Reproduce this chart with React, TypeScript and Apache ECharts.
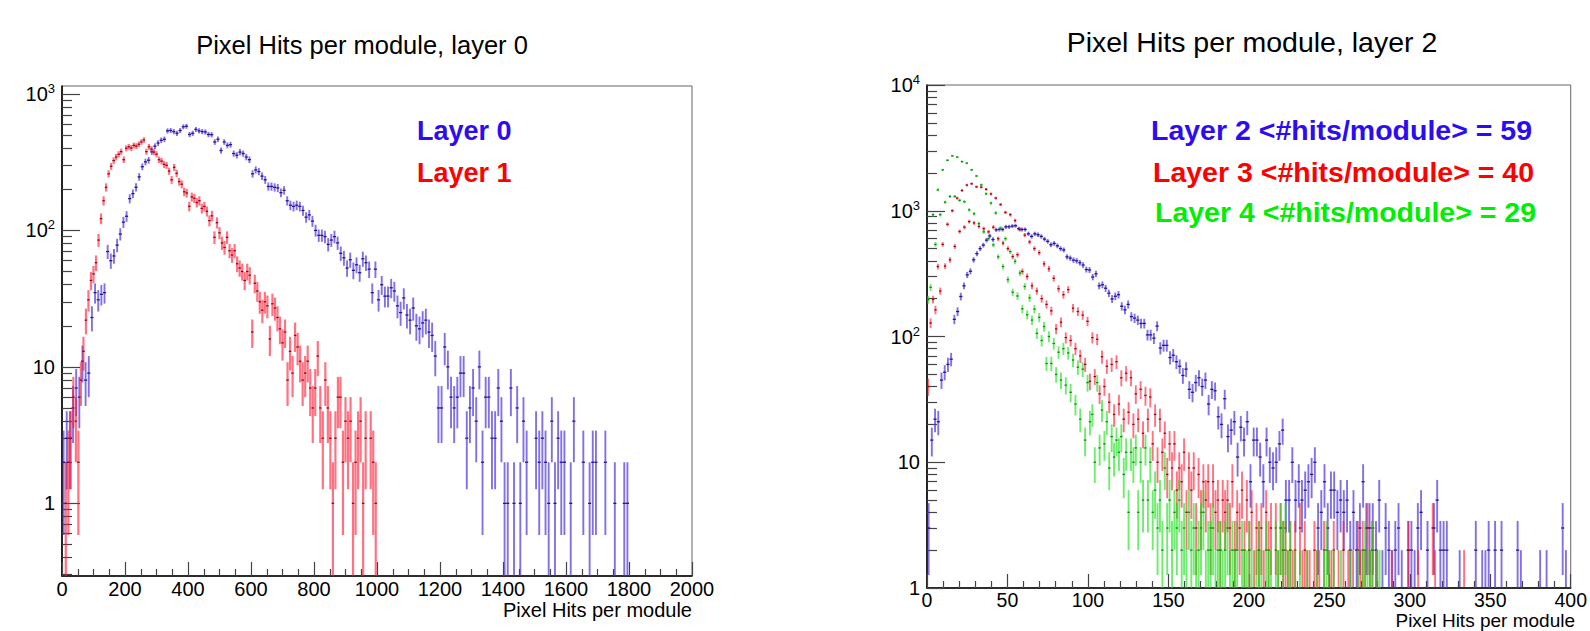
import React, { useEffect, useRef } from 'react';
import * as echarts from 'echarts';

const FONT = '"Liberation Sans", Arial, Helvetica, sans-serif';

// ---------- data: counts per bin (bin i covers [i*w, (i+1)*w)) ----------
const L0_BIN = 10;
const L0_COUNTS = [
  2, 3, 3, 5, 7, 6, 11, 8, 9, 23,
  35, 31, 34, 35, 70, 60, 65, 78, 94, 115,
  127, 171, 186, 207, 247, 293, 318, 327, 377, 414,
  437, 458, 466, 537, 540, 530, 515, 540, 575, 580,
  505, 515, 550, 537, 530, 527, 505, 503, 445, 466,
  385, 445, 420, 425, 366, 356, 375, 366, 345, 330,
  260, 278, 270, 250, 235, 210, 210, 207, 205, 189,
  197, 165, 153, 150, 153, 150, 140, 125, 130, 117,
  100, 92, 92, 90, 79, 85, 90, 81, 68, 63,
  53, 61, 51, 56, 49, 62, 58, 52, 35, 52,
  31, 40, 33, 33, 38, 36, 28, 25, 32, 24,
  22, 27, 20, 19, 21, 22, 18, 17, 12, 5,
  5, 14, 10, 6, 5, 6, 9, 9, 3, 5,
  7, 4, 10, 2, 6, 6, 3, 3, 7, 4,
  1, 1, 7, 1, 5, 1, 4, 2, 0, 0,
  3, 2, 3, 2, 1, 4, 1, 3, 2, 2,
  0, 1, 4, 0, 0, 2, 0, 1, 2, 2,
  0, 0, 2, 0, 0, 1, 0, 0, 1, 1,
];

const L1_BIN = 8;
const L1_COUNTS = [
  0, 1, 2, 3, 6, 4, 2, 8, 13, 22,
  31, 43, 48, 58, 85, 122, 165, 207, 260, 295,
  325, 345, 362, 378, 330, 400, 410, 402, 420, 415,
  428, 445, 460, 378, 410, 395, 375, 362, 330, 322,
  305, 300, 272, 235, 290, 262, 228, 218, 192, 188,
  150, 176, 172, 160, 165, 145, 150, 138, 118, 128,
  89, 114, 96, 81, 75, 89, 71, 66, 71, 57,
  53, 50, 43, 50, 47, 18, 41, 36, 30, 26,
  30, 28, 16, 29, 27, 23, 19, 15, 18, 8,
  13, 9, 17, 14, 11, 8, 9, 11, 7, 5,
  7, 12, 5, 3, 8, 5, 3, 1, 3, 6,
  6, 2, 4, 3, 4, 1, 2, 3, 4, 1,
  3, 0, 3, 2, 1,
];

const L2_BIN = 2;
const L2_COUNTS = [
  3, 15, 22, 21, 45, 52, 60, 66, 137, 158,
  208, 253, 309, 330, 407, 456, 500, 533, 584, 630,
  590, 705, 710, 710, 745, 745, 755, 760, 720, 710,
  710, 656, 625, 656, 645, 625, 595, 571, 537, 550,
  526, 500, 488, 430, 420, 405, 400, 386, 370, 341,
  338, 297, 315, 253, 258, 242, 221, 199, 209, 215,
  174, 163, 180, 144, 140, 135, 127, 127, 103, 103,
  97, 121, 81, 85, 85, 68, 71, 63, 58, 49,
  55, 38, 36, 43, 47, 40, 45, 29, 38, 37,
  23, 20, 32, 16, 18, 21, 11, 19, 15, 21,
  7, 15, 15, 11, 7, 15, 10, 9, 10, 14,
  18, 5, 5, 10, 5, 7, 5, 6, 7, 8,
  10, 3, 4, 7, 3, 6, 6, 4, 5, 4,
  5, 2, 4, 2, 3, 7, 3, 3, 3, 2,
  5, 1, 3, 2, 1, 2, 3, 1, 0, 2,
  2, 1, 3, 4, 0, 2, 0, 3, 5, 2,
  2, 2, 0, 0, 0, 1, 0, 0, 0, 0,
  2, 0, 1, 1, 2, 0, 2, 0, 2, 0,
  0, 0, 0, 2, 1, 0, 0, 0, 0, 0,
  1, 0, 1, 0, 0, 0, 0, 3, 1, 0,
];

const L3_BIN = 1.5;
const L3_COUNTS = [
  40, 128, 197, 163, 360, 230, 540, 363, 780, 407,
  1000, 520, 1260, 684, 1450, 740, 1600, 820, 1640, 800,
  1550, 750, 1540, 720, 1480, 680, 1360, 740, 1260, 600,
  1120, 553, 970, 500, 930, 432, 835, 447, 710, 329,
  640, 300, 565, 253, 500, 230, 464, 200, 378, 180,
  345, 160, 290, 115, 240, 130, 215, 98, 236, 93,
  168, 80, 158, 70, 148, 60, 132, 44, 98, 48,
  95, 35, 69, 40, 58, 30, 60, 24, 63, 29,
  47, 22, 51, 25, 47, 20, 35, 22, 38, 17,
  34, 22, 33, 14, 24, 10, 22, 12, 17, 8,
  14, 9, 14, 6, 9, 7, 12, 4, 9, 6,
  9, 3, 8, 4, 7, 5, 7, 3, 7, 4,
  5, 2, 5, 4, 5, 3, 7, 2, 4, 3,
  6, 2, 5, 2, 4, 1, 3, 2, 3, 1,
  4, 2, 3, 0, 3, 1, 3, 2, 2, 1,
  2, 1, 2, 0, 3, 1, 2, 1, 1, 0,
  2, 1, 1, 0, 2, 0, 1, 1, 2, 0,
  1, 0, 2, 0, 1, 0, 1, 0, 2, 1,
  2, 1, 3, 1, 2, 0, 1, 0, 0, 0,
  0, 0, 1, 0, 0, 0, 0, 0, 0, 2,
  0, 0, 0, 1, 0, 0, 0, 0, 0, 3,
  1, 0, 0, 0, 0, 0, 0, 0, 0, 0,
  0, 0, 1,
];

const L4_BIN = 1.5;
const L4_COUNTS = [
  196, 246, 930, 540, 1466, 930, 2113, 1170, 2520, 1300,
  2730, 1300, 2670, 1210, 2460, 1180, 2390, 1016, 2113, 946,
  1890, 790, 1606, 680, 1364, 600, 1150, 535, 960, 430,
  727, 360, 600, 283, 473, 225, 396, 210, 320, 166,
  250, 149, 203, 135, 165, 106, 142, 93, 120, 61,
  100, 61, 88, 50, 75, 45, 80, 41, 74, 36,
  65, 29, 57, 22, 55, 15, 43, 21, 24, 10,
  43, 13, 26, 14, 21, 9, 16, 11, 15, 12,
  16, 8, 12, 4, 12, 10, 13, 4, 10, 5,
  13, 5, 10, 4, 6, 3, 5, 2, 9, 3,
  5, 2, 4, 3, 5, 2, 3, 1, 4, 2,
  3, 1, 2, 3, 4, 1, 2, 2, 3, 1,
  2, 2, 1, 2, 3, 1, 2, 1, 2, 0,
  2, 1, 1, 2, 1, 0, 1, 2, 1, 0,
  2, 1, 1, 0, 2, 1, 3, 2, 3, 1,
  2, 0, 1, 0, 1, 0, 0, 1, 0, 0,
  0, 1, 0, 0, 1, 2, 1, 0, 1, 0,
  0, 1, 0, 0, 0, 1, 0, 0, 1, 0,
  1, 2, 1, 1, 2, 0, 1, 1,
];

// ---------- texts and axis settings ----------
const TITLES = ['Pixel Hits per module, layer 0', 'Pixel Hits per module, layer 2'];
const X_NAME = 'Pixel Hits per module';
const LEFT_LEGEND = ['Layer 0', 'Layer 1'];
const RIGHT_LEGEND = [
  'Layer 2 <#hits/module> = 59',
  'Layer 3 <#hits/module> = 40',
  'Layer 4 <#hits/module> = 29',
];
const LEFT_X = { min: 0, max: 2000, interval: 200, minorSplit: 4 };
const RIGHT_X = { min: 0, max: 400, interval: 50, minorSplit: 5 };
const LEFT_Y = { min: 0.2934, max: 1144 };
const RIGHT_Y = { min: 1, max: 10000 };
const LEFT_Y_TICKS = [1, 10, 100, 1000];
const RIGHT_Y_TICKS = [1, 10, 100, 1000, 10000];

const C_BLUE = { bar: 'rgba(70,45,215,0.68)', dot: '#24149a', text: '#2c0cf2' };
const C_RED = { bar: 'rgba(255,20,45,0.6)', dot: '#a0000f', text: '#ff0000' };
const C_GREEN = { bar: 'rgba(20,225,20,0.62)', dot: '#0f8a0f', text: '#00ee00' };

function toBins(counts: number[], w: number) {
  const out: number[][] = [];
  counts.forEach((c, i) => {
    if (c > 0) out.push([(i + 0.5) * w, c, w]);
  });
  return out;
}

function minorValues(lo: number, hi: number) {
  const out: number[] = [];
  for (let e = Math.floor(Math.log10(lo)) - 1; e <= Math.ceil(Math.log10(hi)); e++) {
    for (let m = 2; m <= 9; m++) {
      const v = m * Math.pow(10, e);
      if (v > lo && v < hi) out.push(v);
    }
  }
  return out;
}

function histSeries(name: string, data: number[][], gi: number, yMin: number, yMax: number, col: any, barW: number) {
  return {
    type: 'custom',
    name,
    xAxisIndex: gi,
    yAxisIndex: gi * 2,
    clip: true,
    encode: { x: 0, y: 1 },
    data,
    renderItem: (params: any, api: any) => {
      const x = api.value(0);
      const y = api.value(1);
      const w = api.value(2);
      if (!(y > 0)) return null;
      const e = Math.sqrt(y);
      const lo = Math.max(y - e, yMin);
      const hi = Math.min(y + e, yMax);
      const pLo = api.coord([x, lo]);
      const pHi = api.coord([x, hi]);
      const pL = api.coord([x - w / 2, y]);
      const pR = api.coord([x + w / 2, y]);
      return {
        type: 'group',
        children: [
          {
            type: 'line',
            shape: { x1: pLo[0], y1: pLo[1], x2: pHi[0], y2: pHi[1] },
            style: { stroke: col.bar, lineWidth: barW },
          },
          {
            type: 'line',
            shape: { x1: pL[0], y1: pL[1], x2: pR[0], y2: pR[1] },
            style: { stroke: col.dot, lineWidth: 1.3 },
          },
        ],
      };
    },
  };
}

function logLabel(v: number) {
  const l = Math.log10(v);
  const r = Math.round(l);
  if (Math.abs(l - r) > 1e-6) return '';
  if (r === 0) return '{b|1}';
  if (r === 1) return '{b|10}';
  return '{b|10}{s|' + r + '}';
}

const labelRich = {
  b: { fontSize: 20, fontFamily: FONT, color: '#000', lineHeight: 24 },
  s: { fontSize: 13, fontFamily: FONT, color: '#000', lineHeight: 13, verticalAlign: 'top' },
};

function xAxisCfg(gi: number, cfg: any, margin: number, size: number) {
  return {
    type: 'value',
    gridIndex: gi,
    min: cfg.min,
    max: cfg.max,
    interval: cfg.interval,
    axisLine: { show: true, onZero: false, lineStyle: { color: '#000', width: 1.6 } },
    axisTick: { show: true, inside: true, length: 14, lineStyle: { color: '#444', width: 1.2 } },
    minorTick: { show: true, splitNumber: cfg.minorSplit, length: 7, lineStyle: { color: '#444', width: 1.2 } },
    axisLabel: {
      fontSize: size,
      lineHeight: 16,
      fontFamily: FONT,
      color: '#000',
      margin,
      showMaxLabel: true,
      formatter: (v: number) => String(v),
    },
    splitLine: { show: false },
  };
}

function yAxesCfg(gi: number, cfg: any, ticks: number[]) {
  return [
    {
      type: 'log',
      logBase: 10,
      gridIndex: gi,
      position: 'left',
      min: cfg.min,
      max: cfg.max,
      axisLine: { show: true, lineStyle: { color: '#000', width: 1.6 } },
      axisTick: { show: true, inside: true, length: 18, customValues: ticks, lineStyle: { color: '#444', width: 1.2 } },
      axisLabel: { customValues: ticks, formatter: logLabel, rich: labelRich, margin: 7 },
      splitLine: { show: false },
      minorTick: { show: false },
    },
    {
      type: 'log',
      logBase: 10,
      gridIndex: gi,
      position: 'left',
      min: cfg.min,
      max: cfg.max,
      axisLine: { show: false },
      axisTick: {
        show: true,
        inside: true,
        length: 10,
        customValues: minorValues(cfg.min, cfg.max),
        lineStyle: { color: '#444', width: 1.2 },
      },
      axisLabel: { show: false },
      splitLine: { show: false },
    },
  ];
}

export default function App() {
  const ref = useRef<HTMLDivElement>(null);
  useEffect(() => {
    if (!ref.current) return;
    const chart = echarts.init(ref.current, undefined, { renderer: 'svg' });
    const nameStyle = (size: number) => ({
      fontSize: size, lineHeight: 14, fontFamily: FONT, fill: '#000', align: 'right', verticalAlign: 'middle',
    });
    const legStyle = (size: number, fill: string) => ({
      fontSize: size, fontWeight: 'bold', fontFamily: FONT, fill, align: 'left', verticalAlign: 'middle',
    });
    const option: any = {
      animation: false,
      backgroundColor: '#fff',
      grid: [
        { left: 62, top: 86, width: 630, height: 490, show: true, borderColor: '#666', borderWidth: 1 },
        { left: 927, top: 85, width: 648, height: 503, show: true, borderColor: '#666', borderWidth: 1 },
      ],
      xAxis: [xAxisCfg(0, LEFT_X, 5, 20), xAxisCfg(1, RIGHT_X, 4, 19.5)],
      yAxis: [...yAxesCfg(0, LEFT_Y, LEFT_Y_TICKS), ...yAxesCfg(1, RIGHT_Y, RIGHT_Y_TICKS)],
      series: [
        histSeries('Layer 0', toBins(L0_COUNTS, L0_BIN), 0, LEFT_Y.min, LEFT_Y.max, C_BLUE, 1.9),
        histSeries('Layer 1', toBins(L1_COUNTS, L1_BIN), 0, LEFT_Y.min, LEFT_Y.max, C_RED, 2.2),
        histSeries('Layer 2', toBins(L2_COUNTS, L2_BIN), 1, RIGHT_Y.min, RIGHT_Y.max, C_BLUE, 1.9),
        histSeries('Layer 3', toBins(L3_COUNTS, L3_BIN), 1, RIGHT_Y.min, RIGHT_Y.max, C_RED, 1.9),
        histSeries('Layer 4', toBins(L4_COUNTS, L4_BIN), 1, RIGHT_Y.min, RIGHT_Y.max, C_GREEN, 1.9),
      ],
      graphic: [
        { type: 'text', x: 362, y: 45, style: { text: TITLES[0], fontSize: 25.5, fontFamily: FONT, fill: '#000', align: 'center', verticalAlign: 'middle' } },
        { type: 'text', x: 1252, y: 42, style: { text: TITLES[1], fontSize: 28.5, fontFamily: FONT, fill: '#000', align: 'center', verticalAlign: 'middle' } },
        { type: 'text', x: 692, y: 610, style: { text: X_NAME, ...nameStyle(20) } },
        { type: 'text', x: 1575, y: 620, style: { text: X_NAME, ...nameStyle(19) } },
        { type: 'text', x: 417, y: 131, style: { text: LEFT_LEGEND[0], ...legStyle(27, C_BLUE.text) } },
        { type: 'text', x: 417, y: 173, style: { text: LEFT_LEGEND[1], ...legStyle(27, C_RED.text) } },
        { type: 'text', x: 1151, y: 130, style: { text: RIGHT_LEGEND[0], ...legStyle(28.5, C_BLUE.text) } },
        { type: 'text', x: 1153, y: 172, style: { text: RIGHT_LEGEND[1], ...legStyle(28.5, C_RED.text) } },
        { type: 'text', x: 1155, y: 212, style: { text: RIGHT_LEGEND[2], ...legStyle(28.5, C_GREEN.text) } },
      ],
    };
    chart.setOption(option);
    return () => chart.dispose();
  }, []);
  return (
    <div
      ref={ref}
      style={{ position: 'fixed', left: 0, top: 0, width: 1590, height: 631, background: '#fff' }}
    />
  );
}
